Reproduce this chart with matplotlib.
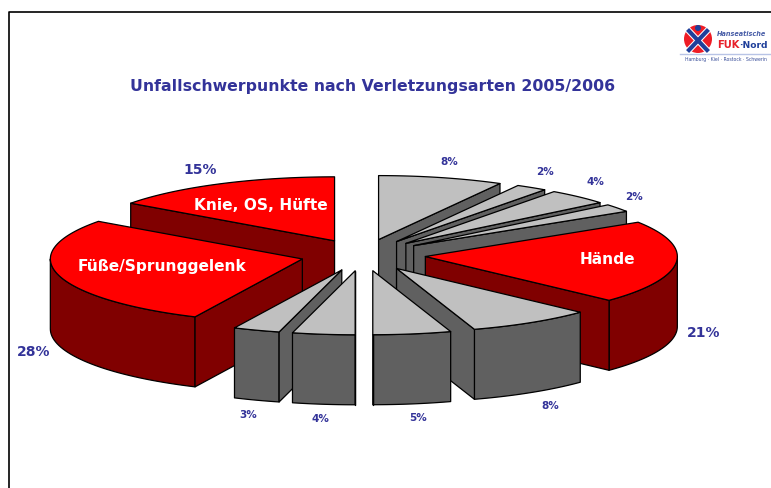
import numpy as np
import matplotlib
matplotlib.use('Agg')
import matplotlib.pyplot as plt
from matplotlib.patches import Circle

# Werte aus dem Bild, im Uhrzeigersinn ab 12 Uhr
values = [8, 2, 4, 2, 21, 8, 5, 4, 3, 28, 15]
highlight = [False, False, False, False, True, False, False, False, False, True, True]
pct_labels = ['8%', '2%', '4%', '2%', '21%', '8%', '5%', '4%', '3%', '28%', '15%']
names = {4: 'Hände', 9: 'Füße/Sprunggelenk', 10: 'Knie, OS, Hüfte'}
title = 'Unfallschwerpunkte nach Verletzungsarten 2005/2006'

# Layout in Pixeln
cx, cy = 363, 255
rx, ry = 252, 64
depth = 70
explode = 0.2485
pct_pos = [(449, 162), (545, 172), (595, 182), (634, 197), (704, 333), (550, 406),
           (418, 418), (320, 419), (248, 415), (34, 352), (200, 170)]
pct_size = [7.5, 7.5, 7.5, 7.5, 10, 7.5, 7.5, 7.5, 7.5, 10, 10]
name_pos = {4: (607, 260), 9: (162, 266), 10: (261, 205)}

BLUE = '#333399'
LOGO_BLUE = '#1F3F9A'

fig = plt.figure(figsize=(7.71, 4.88), dpi=100)
ax = fig.add_axes([0, 0, 1, 1])
ax.set_xlim(0, 771)
ax.set_ylim(488, 0)
ax.axis('off')

# Rahmen
ax.plot([9, 9, 771], [488, 11.5, 11.5], color='black', lw=1.2, zorder=1)

# Winkel aus den Werten
edges = np.cumsum([0] + values) / sum(values) * 360


def rim(theta, x0, y0):
    t = np.radians(theta)
    return x0 + rx * np.sin(t), y0 - ry * np.cos(t)


def draw_slice(i, z):
    a, b = edges[i], edges[i + 1]
    mid = (a + b) / 2
    x0, y0 = rim(mid, cx, cy)
    x0 = cx + (x0 - cx) * explode
    y0 = cy + (y0 - cy) * explode
    top_col = '#FF0000' if highlight[i] else '#C0C0C0'
    side_col = '#800000' if highlight[i] else '#606060'
    style = dict(edgecolor='black', lw=0.9, joinstyle='round')

    # Außenwand, nur der vordere Teil ist sichtbar
    lo, hi = max(a, 90), min(b, 270)
    if hi > lo:
        xs, ys = rim(np.linspace(lo, hi, 40), x0, y0)
        ax.fill(np.r_[xs, xs[::-1]], np.r_[ys, ys[::-1] + depth],
                facecolor=side_col, zorder=z, **style)

    # Schnittfläche
    cut = b if mid < 180 else a
    ex, ey = rim(cut, x0, y0)
    ax.fill([x0, ex, ex, x0], [y0, ey, ey + depth, y0 + depth],
            facecolor=side_col, zorder=z, **style)

    # Deckel
    xs, ys = rim(np.linspace(a, b, 60), x0, y0)
    ax.fill(np.r_[x0, xs], np.r_[y0, ys], facecolor=top_col, zorder=z, **style)


# von hinten nach vorne zeichnen
mids = (edges[:-1] + edges[1:]) / 2
order = np.argsort(-np.abs(mids - 180))
for z, i in enumerate(order):
    draw_slice(i, 2 + z)

top = 2 + len(values)
ax.text(373, 86, title, color=BLUE, fontsize=11.3, fontweight='bold',
        ha='center', va='center', zorder=top)

for lab, pos, size in zip(pct_labels, pct_pos, pct_size):
    ax.text(pos[0], pos[1], lab, color=BLUE, fontsize=size, fontweight='bold',
            ha='center', va='center', zorder=top)

for i, name in names.items():
    ax.text(name_pos[i][0], name_pos[i][1], name, color='white', fontsize=11.1,
            fontweight='bold', ha='center', va='center', zorder=top)

# Logo
ax.add_patch(Circle((698, 39), 14, facecolor='#EE1C25', edgecolor='none', zorder=top))
ax.plot([689, 707], [31, 50], color='white', lw=4.5, zorder=top + 1)
ax.plot([707, 689], [31, 50], color='white', lw=4.5, zorder=top + 1)
ax.plot([689, 707], [31, 50], color=LOGO_BLUE, lw=3, zorder=top + 2)
ax.plot([707, 689], [31, 50], color=LOGO_BLUE, lw=3, zorder=top + 2)
ax.add_patch(Circle((698, 28), 3, facecolor=LOGO_BLUE, edgecolor='none', zorder=top + 2))
ax.text(717, 34, 'Hanseatische', color='#4A5FA8', fontsize=4.7, fontstyle='italic',
        fontweight='bold', va='center', zorder=top)
ax.text(717, 45, 'FUK', color='#E8202A', fontsize=7.2, fontweight='bold', va='center', zorder=top)
ax.text(739, 45, '·Nord', color=LOGO_BLUE, fontsize=6.6, fontweight='bold', va='center', zorder=top)
ax.plot([680, 770], [54, 54], color='#B8C4E6', lw=1, zorder=top)
ax.text(726, 60, 'Hamburg · Kiel · Rostock · Schwerin', color='#3A4F9A', fontsize=3.3,
        ha='center', va='center', zorder=top)

fig.savefig('out.png', dpi=100)
